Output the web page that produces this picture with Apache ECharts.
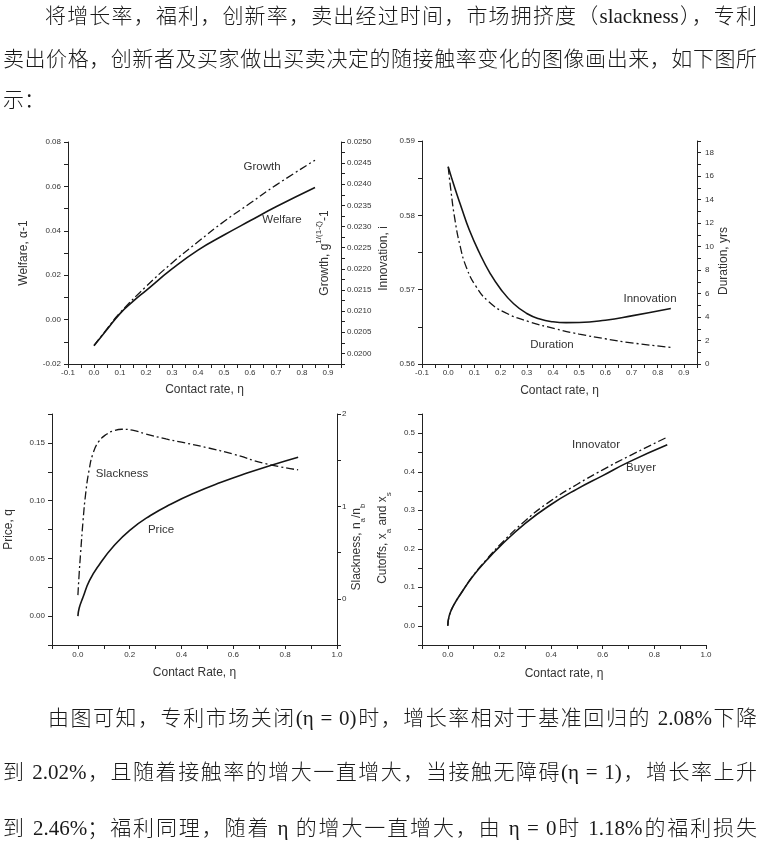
<!DOCTYPE html>
<html><head><meta charset="utf-8">
<script src="https://cdn.jsdelivr.net/npm/echarts@6/dist/echarts.min.js"></script>
<style>
html,body{margin:0;padding:0;background:#fff;width:757px;height:852px;overflow:hidden;}
#chart{position:absolute;left:0;top:0;width:757px;height:852px;}
.p{position:absolute;font-family:"Liberation Serif","Noto Sans CJK SC",serif;font-size:21px;font-weight:300;color:#1a1a1a;white-space:nowrap;line-height:26px;height:26px;}
.j{text-align:justify;text-align-last:justify;}
</style></head>
<body>
<div id="chart"></div>
<div class="p j" style="left:45px;width:712px;top:3px;">将增长率，福利，创新率，卖出经过时间，市场拥挤度（slackness），专利</div>
<div class="p j" style="left:3px;width:754px;top:46px;">卖出价格，创新者及买家做出买卖决定的随接触率变化的图像画出来，如下图所</div>
<div class="p" style="left:3px;top:87px;">示：</div>
<div class="p j" style="left:48px;width:709px;top:705px;">由图可知，专利市场关闭(η = 0)时，增长率相对于基准回归的 2.08%下降</div>
<div class="p j" style="left:3px;width:754px;top:759px;">到 2.02%，且随着接触率的增大一直增大，当接触无障碍(η = 1)，增长率上升</div>
<div class="p j" style="left:3px;width:754px;top:815px;">到 2.46%；福利同理，随着 η 的增大一直增大，由 η = 0时 1.18%的福利损失</div>
<script>
// ---------- data ----------
// Panel 1: welfare (left axis) and growth (right axis) vs contact rate
const welfareEta = [0, 0.05, 0.1, 0.15, 0.2, 0.3, 0.4, 0.5, 0.6, 0.7, 0.85];
const welfare    = [-0.0118, -0.0045, 0.0027, 0.0082, 0.0131, 0.0228, 0.0313, 0.0381, 0.0445, 0.0508, 0.0595];
const growthEta  = [0, 0.05, 0.1, 0.2, 0.3, 0.4, 0.5, 0.6, 0.7, 0.85];
const growth     = [0.02019, 0.02058, 0.02096, 0.02158, 0.02214, 0.02264, 0.02312, 0.02355, 0.02398, 0.02457];
// Panel 2: innovation (left) and duration in years (right)
const innovEta   = [0, 0.025, 0.05, 0.08, 0.12, 0.16, 0.2, 0.25, 0.3, 0.35, 0.4, 0.45, 0.5, 0.6, 0.7, 0.85];
const innovation = [0.58655, 0.5837, 0.5811, 0.5781, 0.5749, 0.5722, 0.5701, 0.5681, 0.5668, 0.56605, 0.56568, 0.56556, 0.56558, 0.56589, 0.56647, 0.56746];
const durEta     = [0, 0.01, 0.025, 0.045, 0.07, 0.105, 0.155, 0.22, 0.31, 0.41, 0.5, 0.6, 0.7, 0.85];
const duration   = [16.8, 14.85, 12.4, 10.1, 8.2, 6.65, 5.3, 4.35, 3.6, 3.0, 2.55, 2.15, 1.8, 1.42];
// Panel 3: price (left) and slackness n_a/n_b (right)
const priceEta   = [0, 0.005, 0.02, 0.045, 0.085, 0.135, 0.2, 0.28, 0.36, 0.45, 0.55, 0.65, 0.75, 0.85];
const price      = [0, 0.007, 0.0165, 0.031, 0.0454, 0.0598, 0.0743, 0.0871, 0.0971, 0.1066, 0.1156, 0.1236, 0.1309, 0.1376];
const slackEta   = [0, 0.005, 0.01, 0.02, 0.03, 0.043, 0.058, 0.08, 0.11, 0.14, 0.17, 0.21, 0.26, 0.34, 0.4, 0.5, 0.6, 0.72, 0.85];
const slackness  = [0.04, 0.28, 0.48, 0.85, 1.14, 1.39, 1.57, 1.70, 1.78, 1.82, 1.835, 1.825, 1.785, 1.73, 1.695, 1.635, 1.565, 1.465, 1.395];
// Panel 4: cutoffs for buyer and innovator
const cutEta     = [0, 0.005, 0.02, 0.05, 0.1, 0.15, 0.2, 0.3, 0.4, 0.5, 0.6, 0.7, 0.85];
const buyer      = [0, 0.025, 0.05, 0.083, 0.131, 0.17, 0.205, 0.266, 0.315, 0.355, 0.39, 0.425, 0.47];
const innovator  = [0, 0.025, 0.05, 0.083, 0.132, 0.172, 0.209, 0.273, 0.325, 0.367, 0.405, 0.44, 0.49];

// ---------- styling helpers ----------
const FONT = '"Liberation Sans", Arial, sans-serif';
const TXT = '#333', AX = '#222', LINE = '#151515';
const RICH = {
  sub: {fontSize: 8, verticalAlign: 'bottom', lineHeight: 20, fontFamily: FONT, color: TXT},
  sup: {fontSize: 8, verticalAlign: 'top', lineHeight: 20, fontFamily: FONT, color: TXT}
};
function near(v, step) { const r = v / step; return Math.abs(r - Math.round(r)) < 1e-6; }
function fmt(step, digits) {
  return function (v) { if (!near(v, step)) return ''; if (Math.abs(v) < 1e-9) v = 0; return v.toFixed(digits); };
}
function axis(o) {
  return {
    type: 'value', gridIndex: o.grid, position: o.position, min: o.min, max: o.max, interval: o.interval,
    splitLine: {show: false},
    axisLine: {show: true, onZero: false, lineStyle: {color: AX, width: 1}},
    axisTick: {show: true, length: 4, lineStyle: {color: AX, width: 1}},
    axisLabel: {fontSize: 8, color: TXT, fontFamily: FONT, margin: o.margin, formatter: fmt(o.step, o.digits)},
    name: o.name, nameLocation: 'middle', nameGap: o.nameGap,
    nameTextStyle: Object.assign({fontSize: 12, color: TXT, fontFamily: FONT, rich: RICH}, o.nameStyle || {})
  };
}
const pts = (xs, ys) => xs.map((x, i) => [x, ys[i]]);
function line(xi, yi, xs, ys, dashed) {
  return {
    type: 'line', xAxisIndex: xi, yAxisIndex: yi, data: pts(xs, ys),
    showSymbol: false, symbol: 'none', smooth: 0.5, silent: true,
    lineStyle: dashed ? {color: LINE, width: 1.3, type: [8, 3, 2, 3]} : {color: LINE, width: 1.6}
  };
}
function label(text, x, y) {
  return {type: 'text', x: x, y: y, silent: true,
    style: {text: text, fontSize: 11.5, fontFamily: FONT, fill: TXT, align: 'center', verticalAlign: 'middle', textAlign: 'center', textVerticalAlign: 'middle'}};
}

const option = {
  animation: false,
  grid: [
    {left: 68, top: 142, width: 273, height: 222},
    {left: 422, top: 141, width: 275, height: 223},
    {left: 52, top: 414, width: 285, height: 231},
    {left: 422, top: 414, width: 284, height: 231}
  ],
  xAxis: [
    axis({grid: 0, position: 'bottom', min: -0.1, max: 0.95, interval: 0.05, step: 0.1, digits: 1, margin: 5, name: 'Contact rate, η', nameGap: 20}),
    axis({grid: 1, position: 'bottom', min: -0.1, max: 0.95, interval: 0.05, step: 0.1, digits: 1, margin: 5, name: 'Contact rate, η', nameGap: 21}),
    axis({grid: 2, position: 'bottom', min: -0.1, max: 1.0, interval: 0.1, step: 0.2, digits: 1, margin: 6, name: 'Contact Rate, η', nameGap: 22}),
    axis({grid: 3, position: 'bottom', min: -0.1, max: 1.0, interval: 0.1, step: 0.2, digits: 1, margin: 6, name: 'Contact rate, η', nameGap: 23})
  ],
  yAxis: [
    axis({grid: 0, position: 'left', min: -0.02, max: 0.08, interval: 0.01, step: 0.02, digits: 2, margin: 7, name: 'Welfare, α-1', nameGap: 38}),
    axis({grid: 0, position: 'right', min: 0.01975, max: 0.025, interval: 0.00025, step: 0.0005, digits: 4, margin: 6, name: 'Growth, g{sup|1/(1-ζ)}-1', nameGap: -26}),
    axis({grid: 1, position: 'left', min: 0.56, max: 0.59, interval: 0.005, step: 0.01, digits: 2, margin: 7, name: 'Innovation, i', nameGap: 32, nameStyle: {padding: [0, 12, 0, 0]}}),
    axis({grid: 1, position: 'right', min: 0, max: 19, interval: 1, step: 2, digits: 0, margin: 8, name: 'Duration, yrs', nameGap: 18, nameStyle: {padding: [0, 17, 0, 0]}}),
    axis({grid: 2, position: 'left', min: -0.025, max: 0.175, interval: 0.025, step: 0.05, digits: 2, margin: 7, name: 'Price, q', nameGap: 37}),
    axis({grid: 2, position: 'right', min: -0.5, max: 2, interval: 0.5, step: 1, digits: 0, margin: 5, name: 'Slackness, n{sub|a}/n{sub|b}', nameGap: 10, nameStyle: {padding: [0, 35, 0, 0]}}),
    axis({grid: 3, position: 'left', min: -0.05, max: 0.55, interval: 0.05, step: 0.1, digits: 1, margin: 7, name: 'Cutoffs, x{sub|a} and x{sub|s}', nameGap: 29, nameStyle: {padding: [0, 17, 0, 0]}})
  ],
  series: [
    line(0, 0, welfareEta, welfare, false),
    line(0, 1, growthEta, growth, true),
    line(1, 2, innovEta, innovation, false),
    line(1, 3, durEta, duration, true),
    line(2, 4, priceEta, price, false),
    line(2, 5, slackEta, slackness, true),
    line(3, 6, cutEta, buyer, false),
    line(3, 6, cutEta, innovator, true)
  ],
  graphic: [
    label('Growth', 262, 167), label('Welfare', 282, 220),
    label('Innovation', 650, 299), label('Duration', 552, 345),
    label('Slackness', 122, 474), label('Price', 161, 530),
    label('Innovator', 596, 445), label('Buyer', 641, 468)
  ]
};
const chart = echarts.init(document.getElementById('chart'), null, {renderer: 'canvas'});
chart.setOption(option);
</script>
</body></html>
